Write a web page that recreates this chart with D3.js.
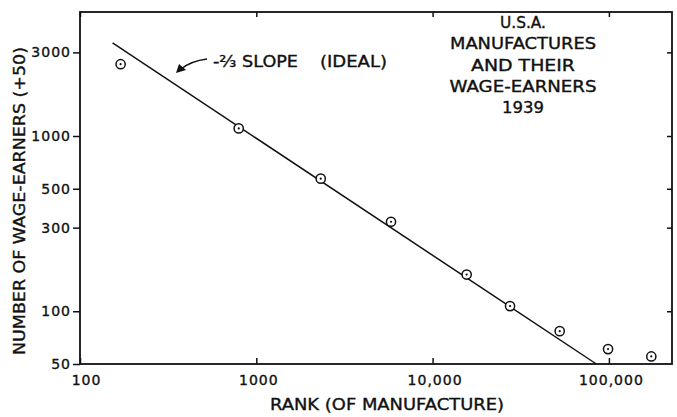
<!DOCTYPE html>
<html>
<head>
<meta charset="utf-8">
<script src="https://cdn.jsdelivr.net/npm/d3@7"></script>
<style>
  body { margin: 0; background: #fff; }
  text { font-family: "DejaVu Sans", sans-serif; fill: #111; stroke: #111; stroke-width: 0.35px; }
</style>
</head>
<body>
<svg id="chart" width="677" height="417"></svg>
<script>
// observed points (rank of manufacture, wage-earners + 50)
var rankValues = [170, 795, 2320, 5810, 15600, 27500, 52600, 98900, 174000];
var earnerValues = [2570, 1105, 571, 324, 162, 107, 77, 60.8, 55.2];

// the -2/3 "ideal" line, two ends
var idealRank = [153, 84900];
var idealEarners = [3400, 50];

var xTickValues = [100, 1000, 10000, 100000];
var xTickLabels = ["100", "1000", "10,000", "100,000"];
var yTickValues = [50, 100, 300, 500, 1000, 3000];
var yTickLabels = ["50", "100", "300", "500", "1000", "3000"];

var titleLines = ["U.S.A.", "MANUFACTURES", "AND THEIR", "WAGE-EARNERS", "1939"];
var titleWidths = [46, 146, 104, 147, 42];

var ink = "#111";
var plot = {left: 80, right: 672, top: 12, bottom: 364};

var svg = d3.select("#chart");

var x = d3.scaleLog().domain([100, 228000]).range([plot.left, plot.right]);
var y = d3.scaleLog().domain([50, 5100]).range([plot.bottom, plot.top]);

// frame
svg.append("rect")
    .attr("x", plot.left).attr("y", plot.top)
    .attr("width", plot.right - plot.left)
    .attr("height", plot.bottom - plot.top)
    .attr("fill", "none").attr("stroke", ink).attr("stroke-width", 1.8);

// bottom axis, ticks pointing in
var xAxis = svg.append("g")
    .attr("transform", "translate(0," + plot.bottom + ")")
    .call(d3.axisBottom(x).tickValues(xTickValues).tickSizeInner(-6).tickSizeOuter(0)
      .tickFormat(function (d, i) { return xTickLabels[i]; }));
xAxis.select(".domain").remove();
xAxis.selectAll("line").attr("stroke", ink).attr("stroke-width", 1.5);
xAxis.selectAll("text")
    .attr("y", 21).attr("dy", 0)
    .attr("x", function (d, i) { return i === 0 ? 6 : 2; })
    .style("font-size", "14px").style("letter-spacing", "1px").attr("fill", ink);

// top ticks
svg.append("g")
    .attr("transform", "translate(0," + plot.top + ")")
    .call(d3.axisTop(x).tickValues(xTickValues).tickSizeInner(-5).tickSizeOuter(0).tickFormat(""))
    .call(function (g) { g.select(".domain").remove(); g.selectAll("line").attr("stroke", ink).attr("stroke-width", 1.5); });

// left axis, ticks pointing out
var yAxis = svg.append("g")
    .attr("transform", "translate(" + plot.left + ",0)")
    .call(d3.axisLeft(y).tickValues(yTickValues).tickSizeInner(7).tickSizeOuter(0)
      .tickFormat(function (d, i) { return yTickLabels[i]; }));
yAxis.select(".domain").remove();
yAxis.selectAll("line").attr("stroke", ink).attr("stroke-width", 1.5);
yAxis.selectAll("text")
    .attr("x", -9)
    .style("font-size", "14px").style("letter-spacing", "1px").attr("fill", ink);

// right ticks
svg.append("g")
    .attr("transform", "translate(" + plot.right + ",0)")
    .call(d3.axisRight(y).tickValues(yTickValues.slice(1)).tickSizeInner(-5).tickSizeOuter(0).tickFormat(""))
    .call(function (g) { g.select(".domain").remove(); g.selectAll("line").attr("stroke", ink).attr("stroke-width", 1.5); });

// ideal line
var line = d3.line()
    .x(function (d) { return x(d[0]); })
    .y(function (d) { return y(d[1]); });
svg.append("path")
    .datum(d3.zip(idealRank, idealEarners))
    .attr("d", line)
    .attr("fill", "none").attr("stroke", ink).attr("stroke-width", 1.5);

// observed points: circle with a dot in the middle
var pts = svg.append("g").selectAll("g")
    .data(d3.zip(rankValues, earnerValues))
  .enter().append("g")
    .attr("transform", function (d) { return "translate(" + x(d[0]) + "," + y(d[1]) + ")"; });
pts.append("circle").attr("r", 4.6)
    .attr("fill", "#fff").attr("stroke", ink).attr("stroke-width", 1.5);
pts.append("circle").attr("r", 1.1).attr("fill", ink);

// annotation with arrow
svg.append("text").attr("x", 213).attr("y", 67)
    .attr("textLength", 85).attr("lengthAdjust", "spacingAndGlyphs")
    .style("font-size", "15px").text("-\u2154 SLOPE");
svg.append("text").attr("x", 320).attr("y", 67)
    .attr("textLength", 67).attr("lengthAdjust", "spacingAndGlyphs")
    .style("font-size", "15px").text("(IDEAL)");
svg.append("path")
    .attr("d", "M207,59 Q191,61 181,69")
    .attr("fill", "none").attr("stroke", ink).attr("stroke-width", 1.5);
svg.append("path")
    .attr("d", "M176,73 L179,64 L186,70 Z")
    .attr("fill", ink);

// title block
svg.append("g").selectAll("text")
    .data(titleLines)
  .enter().append("text")
    .attr("x", 523)
    .attr("y", function (d, i) { return 28 + i * 21.3; })
    .attr("text-anchor", "middle")
    .attr("textLength", function (d, i) { return titleWidths[i]; })
    .attr("lengthAdjust", "spacingAndGlyphs")
    .style("font-size", "15px")
    .text(function (d) { return d; });

// axis titles
svg.append("text")
    .attr("x", 387).attr("y", 410)
    .attr("text-anchor", "middle")
    .attr("textLength", 234).attr("lengthAdjust", "spacingAndGlyphs")
    .style("font-size", "15px")
    .text("RANK (OF MANUFACTURE)");

svg.append("text")
    .attr("transform", "translate(25,201) rotate(-90)")
    .attr("text-anchor", "middle")
    .attr("textLength", 308).attr("lengthAdjust", "spacingAndGlyphs")
    .style("font-size", "15px")
    .text("NUMBER OF WAGE-EARNERS (+50)");
</script>
</body>
</html>
